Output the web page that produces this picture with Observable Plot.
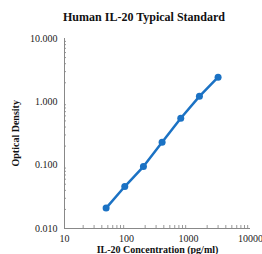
<!DOCTYPE html>
<html>
<head>
<meta charset="utf-8">
<script src="https://cdn.jsdelivr.net/npm/d3@7"></script>
<script src="https://cdn.jsdelivr.net/npm/@observablehq/plot@0.6"></script>
<style>
  body { margin: 0; background: #fff; }
  #title { font-family: "Liberation Serif", serif; font-weight: bold; font-size: 12px; text-align: center; height: 30px; line-height: 34px; padding-left: 26px; color: #111; }
  #chart svg { display: block; }
</style>
</head>
<body>
<div id="title">Human IL-20 Typical Standard</div>
<div id="chart"></div>
<script>
const concentration = [46.88, 93.75, 187.5, 375, 750, 1500, 3000];
const opticalDensity = [0.021, 0.046, 0.095, 0.23, 0.55, 1.22, 2.45];
const xTicks = [10, 100, 1000, 10000];
const yTicks = [0.01, 0.1, 1, 10];

const data = concentration.map((c, i) => ({c, od: opticalDensity[i]}));
const minorX = [];
for (let d = 10; d < 10000; d *= 10) for (let k = 2; k <= 9; k++) minorX.push(d * k);
const minorY = [];
for (let d = 0.01; d < 9; d *= 10) for (let k = 2; k <= 9; k++) minorY.push(+(d * k).toPrecision(3));

const font = "Liberation Serif, serif";
const plot = Plot.plot({
  width: 262,
  height: 224,
  marginLeft: 64,
  marginRight: 12,
  marginTop: 8,
  marginBottom: 26,
  style: {fontFamily: font, fontSize: "10px", color: "#222", background: "#fff", overflow: "visible"},
  x: {type: "log", domain: [10, 10000]},
  y: {type: "log", domain: [0.01, 10]},
  marks: [
    Plot.axisX(xTicks, {tickSize: 0, tickPadding: 6, tickFormat: d => String(d), label: null, fontSize: 10}),
    Plot.axisX(minorX, {tickSize: 3, dy: -3, text: null, label: null, stroke: "#999"}),
    Plot.axisY(yTicks, {tickSize: 0, tickPadding: 7, tickFormat: d3.format(".3f"), label: null, fontSize: 10}),
    Plot.axisY(minorY, {tickSize: 2, dx: 2, text: null, label: null, stroke: "#999"}),
    Plot.ruleX([10], {stroke: "#888"}),
    Plot.ruleY([0.01], {stroke: "#888"}),
    Plot.line(data, {x: "c", y: "od", stroke: "#1b72c4", strokeWidth: 2.5}),
    Plot.dot(data, {x: "c", y: "od", fill: "#1b72c4", r: 3.5}),
    Plot.text(["IL-20 Concentration (pg/ml)"], {frameAnchor: "bottom", dy: 24, text: d => d, fontWeight: "bold", fontSize: 10, fill: "#111"}),
    Plot.text(["Optical Density"], {frameAnchor: "left", dx: -49, dy: 33, rotate: -90, text: d => d, fontWeight: "bold", fontSize: 10, fill: "#111"})
  ]
});
document.getElementById("chart").append(plot);
</script>
</body>
</html>
